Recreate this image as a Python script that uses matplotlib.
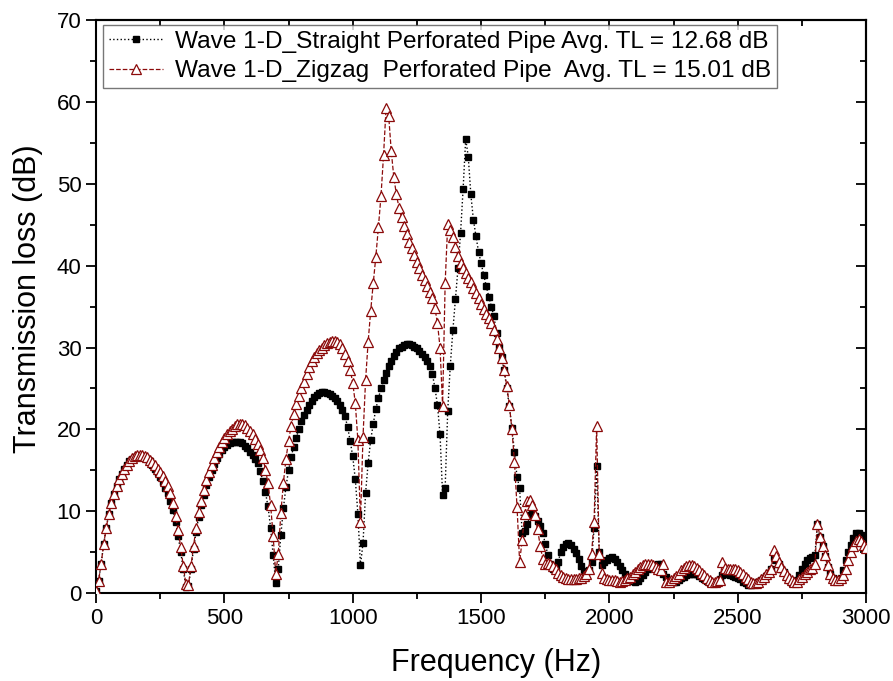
import numpy as np
import matplotlib.pyplot as plt
from matplotlib.ticker import MultipleLocator

plt.rcParams['font.family'] = ['Liberation Sans', 'DejaVu Sans']

# frequency grid, 10 Hz steps
freq = np.arange(0, 3001, 10)

# Transmission loss (dB), straight perforated pipe
tl_straight = [
    0.3, 1.5, 3.6, 6.0, 8.0, 9.7, 11.0, 12.1, 13.1, 14.0,
    14.6, 15.2, 15.7, 16.1, 16.4, 16.6, 16.8, 16.8, 16.8, 16.6,
    16.4, 16.1, 15.7, 15.2, 14.7, 14.2, 13.6, 12.9, 12.2, 11.3,
    10.2, 8.7, 7.0, 5.0, 2.9, 0.8, 0.9, 3.0, 5.4, 7.5,
    9.3, 10.8, 12.0, 13.2, 14.2, 15.1, 15.8, 16.5, 17.0, 17.5,
    17.8, 18.1, 18.3, 18.4, 18.5, 18.5, 18.4, 18.3, 18.0, 17.7,
    17.3, 16.9, 16.4, 15.9, 14.9, 13.7, 12.3, 10.6, 8.0, 4.6,
    1.3, 3.0, 7.1, 10.4, 13.0, 15.0, 16.6, 17.9, 19.0, 20.0,
    21.0, 21.8, 22.4, 23.0, 23.5, 23.9, 24.2, 24.4, 24.6, 24.6,
    24.5, 24.3, 24.1, 23.8, 23.5, 23.0, 22.4, 21.6, 20.3, 18.6,
    16.7, 13.9, 9.7, 3.4, 6.1, 12.2, 15.9, 18.7, 20.7, 22.5,
    23.8, 25.0, 26.0, 26.9, 27.7, 28.4, 29.0, 29.5, 29.9, 30.1,
    30.3, 30.4, 30.4, 30.3, 30.1, 29.9, 29.6, 29.2, 28.8, 28.4,
    27.7, 26.8, 25.1, 23.0, 19.4, 12.0, 12.9, 22.3, 27.8, 32.1,
    35.9, 39.7, 44.0, 49.4, 55.5, 53.3, 48.7, 45.6, 43.6, 41.7,
    40.3, 38.9, 37.5, 36.2, 35.0, 33.8, 31.8, 30.1, 28.8, 27.2,
    25.0, 22.8, 20.2, 17.2, 14.2, 12.8, 7.3, 7.6, 8.4, 9.5,
    9.7, 9.4, 8.8, 8.2, 7.4, 6.0, 4.7, 3.6, 3.0, 3.2,
    3.8, 5.0, 5.6, 6.0, 6.1, 5.9, 5.4, 4.9, 4.2, 3.3,
    2.7, 2.6, 2.8, 3.8, 7.9, 15.5, 5.0, 3.4, 3.8, 4.1,
    4.3, 4.4, 4.2, 3.8, 3.3, 2.8, 2.4, 2.0, 1.7, 1.5,
    1.4, 1.5, 1.8, 2.2, 2.6, 2.9, 3.1, 3.3, 3.4, 3.5,
    3.6, 2.4, 2.0, 1.6, 1.4, 1.4, 1.4, 1.6, 1.8, 2.0,
    2.2, 2.4, 2.4, 2.4, 2.3, 2.1, 1.9, 1.7, 1.5, 1.3,
    1.2, 1.2, 1.4, 1.7, 2.2, 2.4, 2.3, 2.2, 2.1, 2.0,
    1.9, 1.7, 1.4, 1.2, 1.0, 1.0, 1.1, 1.2, 1.4, 1.6,
    1.8, 2.1, 2.5, 3.0, 4.4, 4.0, 3.5, 3.0, 2.6, 2.0,
    1.6, 1.3, 1.2, 1.6, 2.2, 2.9, 3.6, 4.1, 4.3, 4.4,
    4.6, 8.5, 6.8, 5.7, 4.5, 3.2, 2.4, 1.9, 1.6, 1.6,
    1.9, 2.8, 4.0, 5.0, 5.9, 6.7, 7.3, 7.3, 7.1, 6.8,
    6.5,
]

# Transmission loss (dB), zigzag perforated pipe
tl_zigzag = [
    0.3, 1.5, 3.6, 6.0, 8.0, 9.7, 11.0, 12.1, 13.1, 14.0,
    14.6, 15.2, 15.7, 16.1, 16.5, 16.7, 16.9, 16.9, 16.9, 16.8,
    16.6, 16.3, 16.0, 15.6, 15.2, 14.8, 14.3, 13.7, 13.1, 12.2,
    11.0, 9.4, 7.7, 5.6, 3.3, 1.1, 1.0, 3.3, 5.8, 8.0,
    9.9, 11.3, 12.6, 13.8, 14.8, 15.7, 16.5, 17.2, 17.9, 18.5,
    19.0, 19.4, 19.8, 20.1, 20.4, 20.6, 20.7, 20.7, 20.5, 20.2,
    19.8, 19.4, 18.8, 18.2, 17.5, 16.5, 15.1, 13.4, 10.8, 7.0,
    2.4, 4.8, 9.8, 13.5, 16.4, 18.6, 20.4, 21.9, 23.1, 24.1,
    25.0, 25.8, 26.8, 27.6, 28.3, 28.9, 29.3, 29.7, 30.0, 30.3,
    30.5, 30.7, 30.8, 30.8, 30.7, 30.4, 29.9, 29.2, 28.3, 27.3,
    25.7, 23.2, 18.7, 8.7, 19.1, 26.0, 30.7, 34.5, 37.9, 41.1,
    44.7, 48.5, 53.5, 59.3, 58.3, 54.0, 50.8, 48.7, 47.1, 45.9,
    44.9, 43.9, 42.9, 42.1, 41.3, 40.5, 39.7, 38.9, 38.2, 37.5,
    36.8, 36.0, 34.8, 33.0, 30.0, 22.9, 37.9, 45.1, 44.4, 43.5,
    42.3, 41.2, 40.3, 39.7, 39.1, 38.5, 38.0, 37.3, 36.6, 36.0,
    35.3, 34.7, 34.1, 33.6, 33.0, 32.1, 31.0, 30.0, 28.7, 27.2,
    25.3, 23.0, 20.0, 16.0, 10.5, 3.8, 6.5, 9.7, 11.2, 11.4,
    10.8, 9.5, 7.8, 5.8, 4.2, 3.6, 3.7, 3.6, 3.3, 2.9,
    2.5, 2.2, 2.0, 1.8, 1.7, 1.7, 1.7, 1.7, 1.8, 1.9,
    2.1, 2.4, 3.0, 4.8, 8.7, 20.4, 4.8, 2.5, 1.8, 1.7,
    1.6, 1.6, 1.6, 1.5, 1.4, 1.5, 1.6, 1.8, 2.0, 2.3,
    2.6, 2.9, 3.2, 3.4, 3.6, 3.6, 3.6, 3.4, 3.2, 3.0,
    2.8, 3.6, 1.4, 1.4, 1.6, 1.8, 2.1, 2.4, 2.8, 3.1,
    3.3, 3.4, 3.4, 3.3, 3.1, 2.8, 2.5, 2.2, 1.9, 1.6,
    1.4, 1.4, 1.5, 1.6, 3.8, 3.1, 3.0, 3.0, 3.0, 2.9,
    2.8, 2.6, 2.3, 2.0, 1.7, 1.4, 1.2, 1.2, 1.4, 1.7,
    2.0, 2.3, 2.6, 2.9, 5.3, 4.5, 3.8, 3.2, 2.7, 2.2,
    1.9, 1.6, 1.4, 1.4, 1.7, 2.0, 2.3, 2.6, 2.9, 3.1,
    3.6, 8.5, 6.9, 5.7, 4.6, 3.4, 2.4, 1.8, 1.6, 1.6,
    1.8, 2.2, 3.0, 4.0, 5.0, 5.8, 6.4, 6.6, 6.4, 5.9,
    5.5,
]

labels = ['Wave 1-D_Straight Perforated Pipe Avg. TL = 12.68 dB',
          'Wave 1-D_Zigzag  Perforated Pipe  Avg. TL = 15.01 dB']

red = '#8b0a0a'

fig = plt.figure(figsize=(8.93, 6.81), dpi=100)
ax = fig.add_axes([0.1075, 0.129, 0.8625, 0.8416])

ax.plot(freq, tl_straight, ls=':', lw=1, color='black', marker='s',
        ms=4.3, mfc='black', mec='black', label=labels[0], zorder=2)
ax.plot(freq, tl_zigzag, ls='--', lw=0.9, color=red, marker='^',
        ms=6.5, mfc='white', mec=red, mew=0.9, label=labels[1], zorder=3)

ax.set_xlim(0, 3000)
ax.set_ylim(0, 70)
ax.xaxis.set_major_locator(MultipleLocator(500))
ax.xaxis.set_minor_locator(MultipleLocator(250))
ax.yaxis.set_major_locator(MultipleLocator(10))
ax.yaxis.set_minor_locator(MultipleLocator(5))

ax.tick_params(which='both', direction='out', width=1.3, labelsize=16,
               top=False, right=False)
ax.tick_params(which='major', length=7)
ax.tick_params(which='minor', length=4)

# inward ticks on the right and top spines, as in the original
axr = ax.secondary_yaxis('right')
axr.yaxis.set_major_locator(MultipleLocator(10))
axr.yaxis.set_minor_locator(MultipleLocator(5))
axr.tick_params(which='both', direction='in', width=1.3, labelright=False)
axr.tick_params(which='major', length=7)
axr.tick_params(which='minor', length=4)
axt = ax.secondary_xaxis('top')
axt.xaxis.set_major_locator(MultipleLocator(500))
axt.xaxis.set_minor_locator(MultipleLocator(250))
axt.tick_params(which='both', direction='in', width=1.3, labeltop=False)
axt.tick_params(which='major', length=7)
axt.tick_params(which='minor', length=4)

for s in ax.spines.values():
    s.set_linewidth(1.5)
axr.spines['right'].set_linewidth(1.5)
axt.spines['top'].set_linewidth(1.5)

ax.set_xlabel('Frequency (Hz)', fontsize=22, labelpad=15)
ax.xaxis.set_label_coords(0.52, -0.095)
ax.set_ylabel('Transmission loss (dB)', fontsize=22)
ax.yaxis.set_label_coords(-0.069, 0.514)

leg = ax.legend(loc='upper left', bbox_to_anchor=(0.009, 0.992), fontsize=17.6,
                frameon=True, fancybox=False, borderpad=0.25, handlelength=2.2,
                handletextpad=0.5, labelspacing=0.3, borderaxespad=0)
leg.get_frame().set_edgecolor('#555555')
leg.get_frame().set_linewidth(1)

plt.savefig('out.png', dpi=100)
